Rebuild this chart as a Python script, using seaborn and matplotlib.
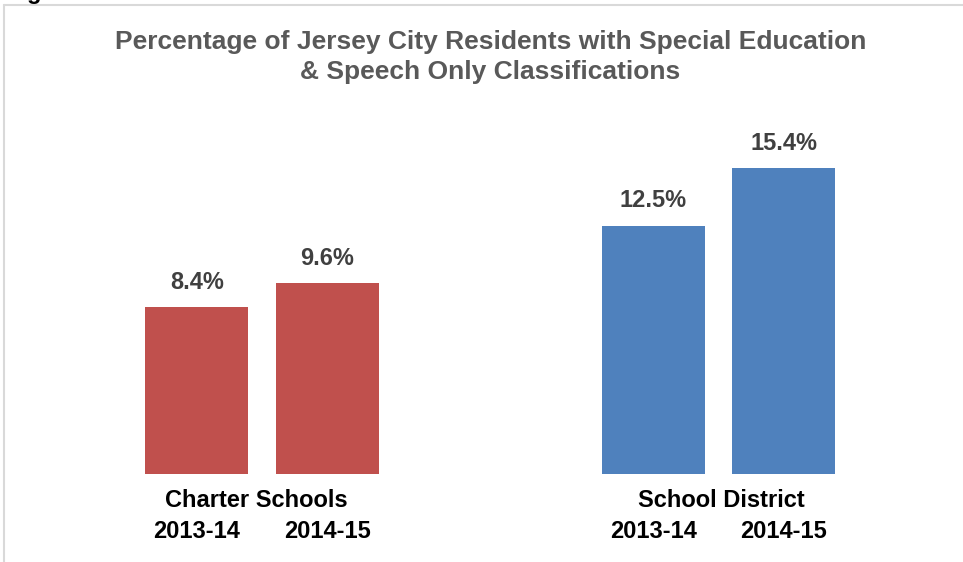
import matplotlib
matplotlib.use("Agg")
import matplotlib.pyplot as plt
import matplotlib.transforms as mtransforms
from matplotlib.lines import Line2D
import seaborn as sns
import pandas as pd

# Data
sectors = ["Charter Schools", "School District"]
years = ["2013-14", "2014-15"]
charter_pct = [8.4, 9.6]
district_pct = [12.5, 15.4]
sector_colors = {"Charter Schools": "#C0504D", "School District": "#4F81BD"}

df = pd.DataFrame({
    "sector": [s for s in sectors for _ in years],
    "year": years * 2,
    "pct": charter_pct + district_pct,
})

sns.set_theme(style="white")
plt.rcParams["font.family"] = ["Liberation Sans", "DejaVu Sans"]

W, H = 963, 562
fig = plt.figure(figsize=(W / 100, H / 100), dpi=100)
ax = fig.add_axes([4 / W, (H - 474) / H, (W - 4) / W, (474 - 5) / H])

sns.barplot(data=df, x="sector", y="pct", hue="year", order=sectors,
            hue_order=years, width=0.571, gap=0.21, legend=False, ax=ax,
            saturation=1)

# colour bars by sector and annotate values
centers = []
for cont, yr in zip(ax.containers, years):
    for bar, sec in zip(cont, sectors):
        bar.set_facecolor(sector_colors[sec])
        bar.set_edgecolor("none")
        cx = bar.get_x() + bar.get_width() / 2
        centers.append((cx, yr))
        ax.annotate(f"{bar.get_height():.1f}%", (cx, bar.get_height()),
                    xytext=(0, 18), textcoords="offset points",
                    ha="center", va="center", fontsize=17, fontweight="bold",
                    color="#404040")

ax.set_xlim(-0.565, 1.536)
ax.set_ylim(0, (474 - 5) / 19.87)
centers.sort()
ax.set_xticks([c for c, _ in centers])
ax.set_xticklabels([y for _, y in centers], fontsize=17, fontweight="bold",
                   color="black")
ax.tick_params(axis="x", length=0, pad=33)
ax.set_yticks([])
ax.set_xlabel("")
ax.set_ylabel("")
for sp in ax.spines.values():
    sp.set_visible(False)

# group names under each pair of bars
trans = mtransforms.blended_transform_factory(ax.transData, ax.transAxes)
for i, (sec, dx) in enumerate(zip(sectors, [-0.013, 0.006])):
    ax.text(i + dx, -0.056, sec, transform=trans, ha="center", va="center",
            fontsize=17, fontweight="bold", color="black")

fig.text(490.5 / W, 1 - 57 / H,
         "Percentage of Jersey City Residents with Special Education\n"
         "& Speech Only Classifications",
         ha="center", va="center", fontsize=19, fontweight="bold",
         color="#595959", linespacing=1.3)

# frame lines along the top and left edges
fig.add_artist(Line2D([4 / W, 1], [1 - 5 / H, 1 - 5 / H],
                      transform=fig.transFigure, color="#d9d9d9", lw=1.5))
fig.add_artist(Line2D([4 / W, 4 / W], [0, 1 - 5 / H],
                      transform=fig.transFigure, color="#d9d9d9", lw=1.5))
fig.text(27 / W, 1 + 8 / H, "g", ha="left", va="center", fontsize=17,
         fontweight="bold", color="black")

fig.savefig("out.png", dpi=100, facecolor="white")
